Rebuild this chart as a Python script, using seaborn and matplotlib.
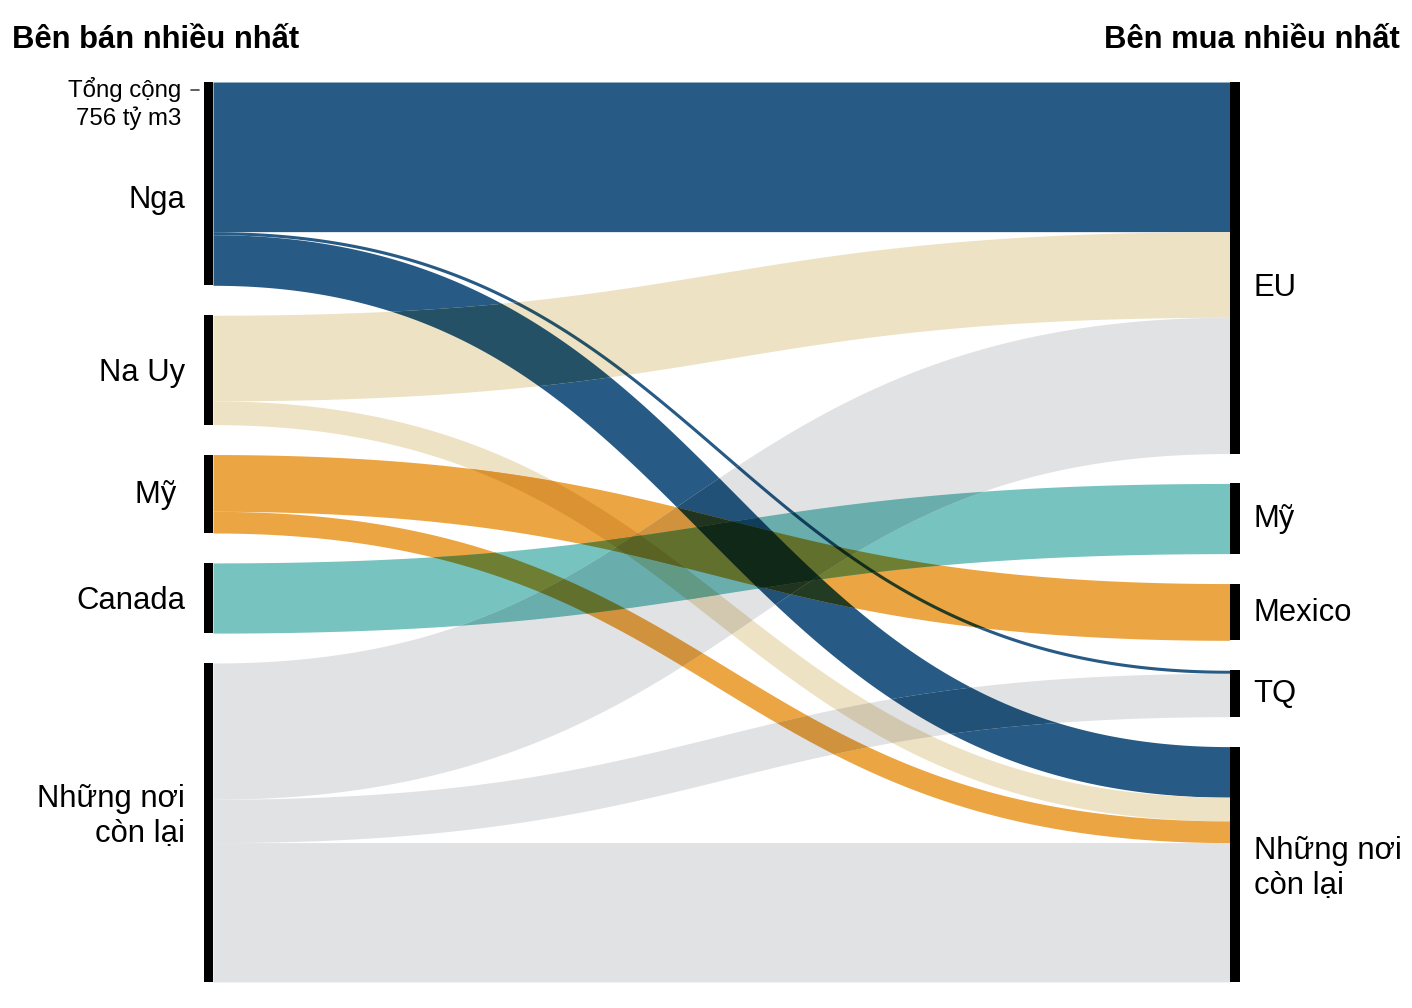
import numpy as np
import matplotlib
matplotlib.use("Agg")
import matplotlib.pyplot as plt
import matplotlib.colors as mcolors
import seaborn as sns

# nodes
sellers = ['Nga', 'Na Uy', 'Mỹ ', 'Canada', 'Những nơi\ncòn lại']
buyers = ['EU', 'Mỹ', 'Mexico', 'TQ', 'Những nơi\ncòn lại']
seller_colors = ['#275b85', '#ede2c4', '#eca543', '#77c3c0', '#e1e2e4']

# flows (tỷ m3)
flow_source = [0, 0, 0, 1, 1, 2, 2, 3, 4, 4, 4]
flow_target = [0, 3, 4, 0, 4, 2, 4, 1, 0, 3, 4]
flow_value = [145, 3, 49, 83, 23, 55, 21, 68, 132, 42, 135]

GAP = 29        # space between nodes, same units as values
SPAN = 985      # horizontal length of the links
PX = 1.032      # pixels per unit
BAR = 9

sns.set_theme(style='white')
plt.rcParams['font.family'] = ['Liberation Sans', 'DejaVu Sans']
plt.rcParams['text.color'] = 'black'


def node_layout(index_list, n):
    totals = [sum(v for i, v in zip(index_list, flow_value) if i == k) for k in range(n)]
    tops, y = [], 0
    for t in totals:
        tops.append(y)
        y += t + GAP
    return totals, tops


src_tot, src_top = node_layout(flow_source, len(sellers))
dst_tot, dst_top = node_layout(flow_target, len(buyers))

# stacking of links inside each node
order_out = sorted(range(len(flow_value)), key=lambda i: (flow_source[i], flow_target[i]))
order_in = sorted(range(len(flow_value)), key=lambda i: (flow_target[i], flow_source[i]))
y_start, y_end = {}, {}
acc = list(src_top)
for i in order_out:
    y_start[i] = acc[flow_source[i]] + flow_value[i] / 2
    acc[flow_source[i]] += flow_value[i]
acc = list(dst_top)
for i in order_in:
    y_end[i] = acc[flow_target[i]] + flow_value[i] / 2
    acc[flow_target[i]] += flow_value[i]

s = np.linspace(0, 1, 3000)
X = np.linspace(0, SPAN, 2400)


def link_band(y0, y1, w):
    # d3-style bezier link, stroked with width w (perpendicular offset)
    bx = 1.5 * s * (1 - s) * SPAN + s ** 3 * SPAN
    by = (1 - s) ** 3 * y0 + 3 * (1 - s) ** 2 * s * y0 + 3 * (1 - s) * s ** 2 * y1 + s ** 3 * y1
    dx = np.gradient(bx, s)
    dy = np.gradient(by, s)
    n = np.hypot(dx, dy)
    nx, ny = -dy / n, dx / n
    h = w / 2
    ya = np.interp(X, bx + h * nx, by + h * ny)
    yb = np.interp(X, bx - h * nx, by - h * ny)
    return np.minimum(ya, yb), np.maximum(ya, yb)


bands = [link_band(y_start[i], y_end[i], flow_value[i]) for i in range(len(flow_value))]
rgb = [np.array(mcolors.to_rgb(seller_colors[flow_source[i]])) for i in range(len(flow_value))]

fig = plt.figure(figsize=(14.12, 10.08), dpi=100)
ax = fig.add_axes([0, 0, 1, 1])
ax.set_xlim(-213 / PX, (1412 - 213) / PX)
ax.set_ylim((1008 - 82) / PX, -82 / PX)
ax.axis('off')

# links, overlaps coloured as multiply blend
level = [((i,), bands[i][0], bands[i][1]) for i in range(len(bands))]
while level:
    nxt = []
    for idx, lo, hi in level:
        mask = hi - lo > 0.05
        col = np.prod([rgb[k] for k in idx], axis=0)
        ax.fill_between(X, lo, hi, where=mask, interpolate=True, color=col, lw=0)
        for j in range(idx[-1] + 1, len(bands)):
            lo2 = np.maximum(lo, bands[j][0])
            hi2 = np.minimum(hi, bands[j][1])
            if np.any(hi2 - lo2 > 0.05):
                nxt.append((idx + (j,), lo2, hi2))
    level = nxt

# node bars
ax.barh([t + v / 2 for t, v in zip(src_top, src_tot)], BAR, height=src_tot, left=-BAR,
        color='black', linewidth=0)
ax.barh([t + v / 2 for t, v in zip(dst_top, dst_tot)], BAR + 1, height=dst_tot, left=SPAN,
        color='black', linewidth=0)

# labels
left_nudge = [16, 3, 1, 3, -6]
right_nudge = [20.5, 0, 1, 1, 4.5]
for k, name in enumerate(sellers):
    yc = src_top[k] + src_tot[k] / 2 + left_nudge[k] / PX
    ax.text(-28 / PX, yc, name, ha='right', va='center', fontsize=22.3)
for k, name in enumerate(buyers):
    yc = dst_top[k] + dst_tot[k] / 2 + right_nudge[k] / PX
    ax.text(SPAN + 24 / PX, yc, name, ha='left', va='center', fontsize=22.3)

ax.text(-32 / PX, 8 / PX, 'Tổng cộng', ha='right', va='center', fontsize=17.3)
ax.text(-32 / PX, 36 / PX, f'{sum(flow_value)} tỷ m3', ha='right', va='center', fontsize=17.3)
ax.plot([-22 / PX, -14 / PX], [8 / PX, 8 / PX], color='#444444', lw=1.2)

fig.text(12 / 1412, 1 - 40 / 1008, 'Bên bán nhiều nhất', ha='left', va='center',
         fontsize=22.3, fontweight='bold')
fig.text(1400 / 1412, 1 - 40 / 1008, 'Bên mua nhiều nhất', ha='right', va='center',
         fontsize=22.3, fontweight='bold')

fig.savefig('out.png', dpi=100, facecolor='white')
